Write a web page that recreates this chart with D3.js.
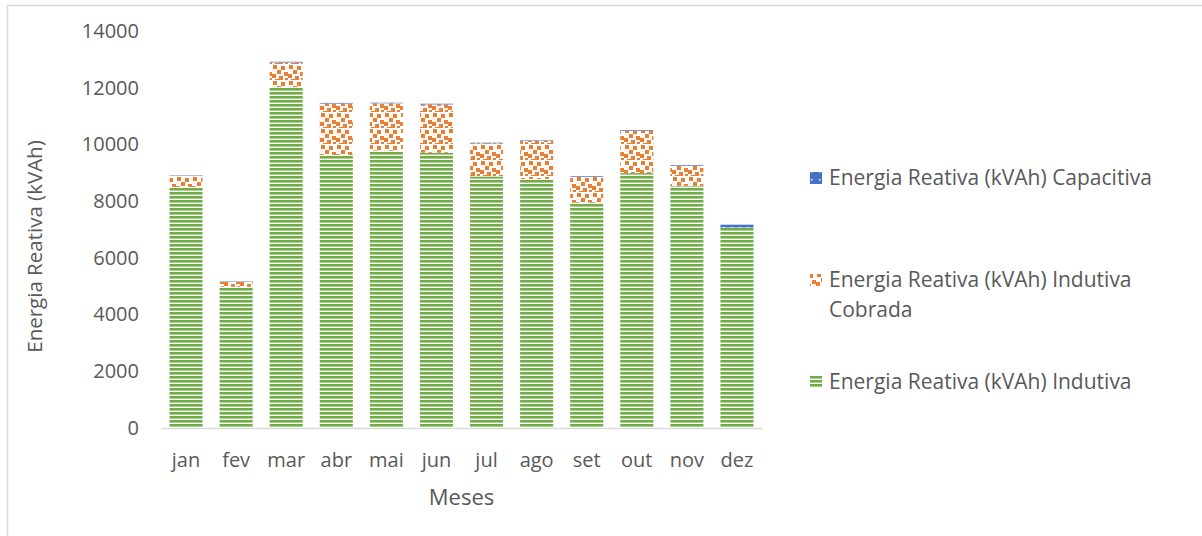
<!DOCTYPE html>
<html>
<head>
<meta charset="utf-8">
<script src="https://cdn.jsdelivr.net/npm/d3@7"></script>
<style>
  body { margin: 0; background: #fff; }
  text { font-family: 'Open Sans', sans-serif; fill: #595959; }
</style>
</head>
<body>
<svg id="chart" width="1202" height="536"></svg>
<script>
// dados
const meses = ['jan', 'fev', 'mar', 'abr', 'mai', 'jun', 'jul', 'ago', 'set', 'out', 'nov', 'dez'];
const indutiva = [8500, 4980, 12020, 9630, 9780, 9710, 8870, 8780, 7950, 8990, 8540, 7070];
const indutivaCobrada = [390, 170, 870, 1810, 1670, 1700, 1170, 1350, 910, 1490, 710, 0];
const capacitiva = [15, 15, 25, 25, 20, 25, 20, 20, 25, 25, 25, 100];
const yTicks = [0, 2000, 4000, 6000, 8000, 10000, 12000, 14000];
const seriesNames = ['Energia Reativa (kVAh) Indutiva', 'Energia Reativa (kVAh) Indutiva Cobrada', 'Energia Reativa (kVAh) Capacitiva'];

const svg = d3.select('#chart');
const margin = { top: 31, left: 161, bottom: 428, right: 762 };

// moldura
svg.append('rect')
  .attr('x', 7.5).attr('y', 5.5)
  .attr('width', 1300).attr('height', 600)
  .attr('fill', 'none').attr('stroke', '#d9d9d9').attr('stroke-width', 1.5);

const defs = svg.append('defs');
const pStripe = defs.append('pattern').attr('id', 'pStripe')
  .attr('patternUnits', 'userSpaceOnUse').attr('width', 8).attr('height', 4)
  .attr('y', 428);
pStripe.append('rect').attr('width', 8).attr('height', 4).attr('fill', '#fff');
pStripe.append('rect').attr('y', 0).attr('width', 8).attr('height', 2).attr('fill', '#70ad47');
pStripe.append('rect').attr('y', 2).attr('width', 8).attr('height', 1).attr('fill', '#a9d18e');

const pConfetti = defs.append('pattern').attr('id', 'pConfetti')
  .attr('patternUnits', 'userSpaceOnUse').attr('width', 16).attr('height', 16);
pConfetti.append('rect').attr('width', 16).attr('height', 16).attr('fill', '#fff');
[[1, 1], [9, 2], [5, 6], [12, 8], [0, 10], [7, 12], [13, 14], [3, 15]].forEach(([x, y]) => {
  pConfetti.append('rect').attr('x', x).attr('y', y).attr('width', 4).attr('height', 4)
    .attr('fill', '#ed7d31');
});

const pDots = defs.append('pattern').attr('id', 'pDots')
  .attr('patternUnits', 'userSpaceOnUse').attr('width', 8).attr('height', 8);
pDots.append('rect').attr('width', 8).attr('height', 8).attr('fill', '#4472c4');
pDots.append('rect').attr('x', 3).attr('y', 3).attr('width', 1.5).attr('height', 1.5).attr('fill', '#fff');

const fills = ['url(#pStripe)', 'url(#pConfetti)', 'url(#pDots)'];

const x = d3.scaleBand().domain(meses).range([margin.left, margin.right]).paddingInner(0.34).paddingOuter(0.17);
const y = d3.scaleLinear().domain([0, 14000]).range([margin.bottom, margin.top]);

const rows = meses.map((m, i) => ({
  mes: m, a: indutiva[i], b: indutivaCobrada[i], c: capacitiva[i],
}));
const stacked = d3.stack().keys(['a', 'b', 'c'])(rows);

svg.append('g').selectAll('g')
  .data(stacked)
  .join('g')
  .attr('fill', (d, i) => fills[i])
  .selectAll('rect')
  .data(d => d)
  .join('rect')
  .attr('x', d => x(d.data.mes))
  .attr('width', x.bandwidth())
  .attr('y', d => y(d[1]))
  .attr('height', d => y(d[0]) - y(d[1]));

// eixo x
const gx = svg.append('g').attr('transform', `translate(0,${margin.bottom})`)
  .call(d3.axisBottom(x).tickSize(0).tickPadding(25));
gx.select('.domain').attr('stroke', '#d9d9d9').attr('stroke-width', 1.5);
gx.selectAll('text').style('font-size', '20px').attr('fill', '#595959').attr('font-family', 'Open Sans');

// eixo y
const gy = svg.append('g').attr('transform', `translate(${margin.left},0)`)
  .call(d3.axisLeft(y).tickValues(yTicks).tickSize(0).tickPadding(22).tickFormat(d3.format('d')));
gy.select('.domain').remove();
gy.selectAll('text').style('font-size', '20px').attr('fill', '#595959').attr('font-family', 'Open Sans');

svg.append('text')
  .attr('transform', `translate(42,${(margin.top + margin.bottom) / 2 + 17}) rotate(-90)`)
  .attr('text-anchor', 'middle')
  .style('font-size', '20.5px')
  .text('Energia Reativa (kVAh)');

svg.append('text')
  .attr('x', (margin.left + margin.right) / 2).attr('y', 505)
  .attr('text-anchor', 'middle')
  .style('font-size', '22px')
  .text('Meses');

// legenda
const legend = [
  { name: seriesNames[2], fill: fills[2], y: 178, lines: ['Energia Reativa (kVAh) Capacitiva'] },
  { name: seriesNames[1], fill: fills[1], y: 280, lines: ['Energia Reativa (kVAh) Indutiva', 'Cobrada'] },
  { name: seriesNames[0], fill: fills[0], y: 382, lines: ['Energia Reativa (kVAh) Indutiva'] },
];
const gl = svg.append('g').selectAll('g').data(legend).join('g');
gl.append('rect')
  .attr('x', 810).attr('y', d => d.y - 6)
  .attr('width', 12).attr('height', 12)
  .attr('fill', d => d.fill);
gl.append('text')
  .attr('x', 829).attr('y', d => d.y + 7)
  .style('font-size', '21px')
  .selectAll('tspan')
  .data(d => d.lines)
  .join('tspan')
  .attr('x', 829)
  .attr('dy', (d, i) => (i === 0 ? 0 : 30))
  .text(d => d);
</script>
</body>
</html>
